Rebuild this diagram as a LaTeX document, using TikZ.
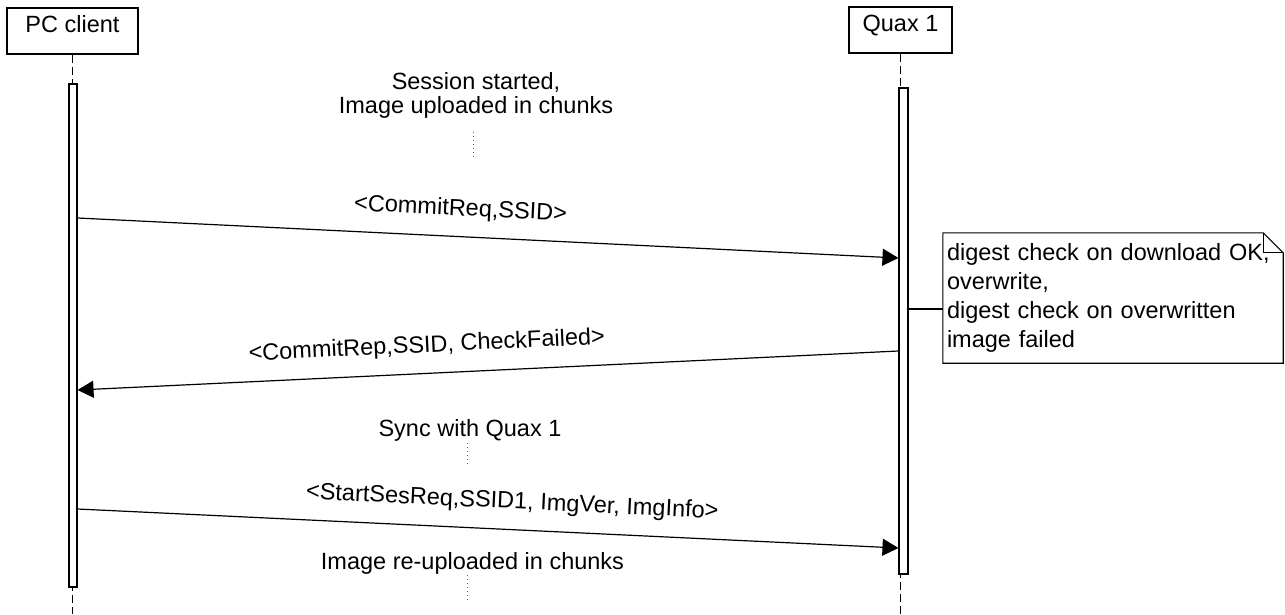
\documentclass[tikz,border=0pt]{standalone}
\usepackage{fontspec}
\setmainfont{Liberation Sans}
\usetikzlibrary{arrows.meta}
\begin{document}
\begin{tikzpicture}[x=1pt,y=-1pt,
  every node/.style={font=\fontsize{23.5}{28}\selectfont},
  head/.style={draw, line width=1.3pt, fill=white, inner xsep=0pt, inner ysep=8pt,
    text height=16pt, text depth=14pt},
  lifeline/.style={line width=1.1pt, dash pattern=on 8pt off 4pt},
  actbar/.style={draw, line width=1.1pt, fill=white, inner sep=0pt},
  msg/.style={line width=1.2pt, -{Triangle[length=16pt,width=17pt]}},
  msglabel/.style={sloped, anchor=base, yshift=21pt, inner sep=0pt},
  ellip/.style={line width=1pt, black!60, dash pattern=on 1pt off 3pt},
  plain/.style={anchor=base, inner sep=0pt},
  notebox/.style={text width=332pt, inner xsep=4pt, inner ysep=0pt, minimum height=130pt,
    align=left, font=\fontsize{23.5}{29}\selectfont}]

\useasboundingbox (0,0) rectangle (1285,614);
\fill[white] (0,0) rectangle (1285,614);

% participants
\node[head, minimum width=131pt] (pc) at (72.5,31) {PC client};
\node[head, minimum width=103pt] (qx) at (900.5,30) {Quax 1};

% lifelines
\coordinate (pcend) at (72,614);
\coordinate (qxend) at (901,614);
\draw[lifeline] (pc.south) -- (pc.south |- pcend);
\draw[lifeline] (qx.south) -- (qx.south |- qxend);

% activation bars
\node[actbar, minimum width=8pt, minimum height=503pt] (pcbar) at (73,335.5) {};
\node[actbar, minimum width=9pt, minimum height=486pt] (qxbar) at (903.5,331) {};

% message end points
\coordinate (m1a) at (pcbar.east |- 0,218);
\coordinate (m1b) at (qxbar.west |- 0,258);
\coordinate (m2a) at (qxbar.west |- 0,351);
\coordinate (m2b) at (pcbar.east |- 0,390);
\coordinate (m3a) at (pcbar.east |- 0,509);
\coordinate (m3b) at (qxbar.west |- 0,548);

% messages
\draw[msg] (m1a) -- node[msglabel, pos=0.465] (l1) {<CommitReq,SSID>} (m1b);
\draw[msg] (m2a) -- node[msglabel, pos=0.573] (l2) {<CommitRep,SSID, CheckFailed>} (m2b);
\draw[msg] (m3a) -- node[msglabel, pos=0.528] (l3) {<StartSesReq,SSID1, ImgVer, ImgInfo>} (m3b);

% phase comments
\node[plain] (s1a) at (476,89) {Session started,};
\node[plain] (s1b) at (476,113) {Image uploaded in chunks};
\coordinate (d1a) at (473,132);
\coordinate (d1b) at (473,158);
\draw[ellip] (d1a) -- (d1b);

\node[plain] (s2) at (470,436) {Sync with Quax 1};
\coordinate (d2a) at (467,443);
\coordinate (d2b) at (467,467);
\draw[ellip] (d2a) -- (d2b);

\node[plain] (s3) at (472.5,569) {Image re-uploaded in chunks};
\coordinate (d3a) at (467,575);
\coordinate (d3b) at (467,602);
\draw[ellip] (d3a) -- (d3b);

% note with folded corner
\node[notebox] (note) at (1113,298)
  {digest check on download OK,\\ overwrite,\\ digest check on overwritten\\ image failed};
\draw[line width=1.1pt] (note.north west) -- ([xshift=-20pt]note.north east)
  -- ([yshift=-20pt]note.north east) -- (note.south east) -- (note.south west) -- cycle;
\draw[line width=1.1pt] ([xshift=-20pt]note.north east) |- ([yshift=-20pt]note.north east);
\coordinate (nl) at (qxbar.east |- 0,309);
\draw[line width=1.1pt] (nl) -- (note.west |- nl);
\end{tikzpicture}
\end{document}
